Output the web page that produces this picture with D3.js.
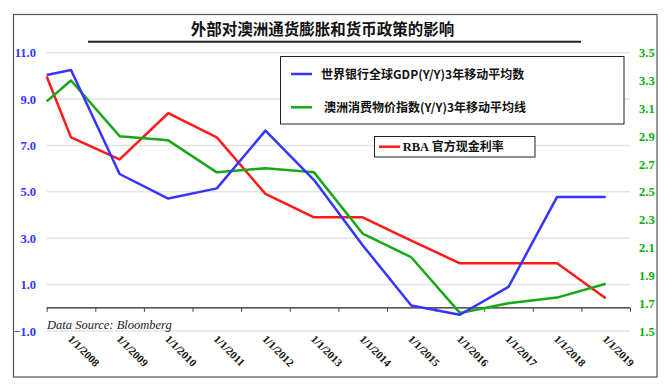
<!DOCTYPE html>
<html>
<head>
<meta charset="utf-8">
<script src="https://cdn.jsdelivr.net/npm/d3@7"></script>
<style>
  html, body { margin: 0; padding: 0; background: #fff; }
  svg { display: block; }
</style>
</head>
<body>
<svg id="chart" width="672" height="390"></svg>
<script>
// ---------------- data ----------------
const categories = ["1/1/2008","1/1/2009","1/1/2010","1/1/2011","1/1/2012","1/1/2013",
                    "1/1/2014","1/1/2015","1/1/2016","1/1/2017","1/1/2018","1/1/2019"];
// each line starts at the left edge of the plot with a leading value
const gdpStart = 10.04;
const gdpValues = [10.25, 5.77, 4.71, 5.15, 7.64, 5.51, 2.7, 0.1, -0.3, 0.9, 4.78, 4.78];
const rbaStart = 9.97;
const rbaValues = [7.35, 6.40, 8.39, 7.35, 4.91, 3.90, 3.90, 2.9, 1.92, 1.92, 1.92, 0.41];
const cpiStart = 3.15;
const cpiValues = [3.30, 2.90, 2.87, 2.64, 2.67, 2.64, 2.20, 2.03, 1.63, 1.70, 1.74, 1.84];
const leftTicks = [-1, 1, 3, 5, 7, 9, 11];
const rightTicks = [1.5, 1.7, 1.9, 2.1, 2.3, 2.5, 2.7, 2.9, 3.1, 3.3, 3.5];
const titleText = "外部对澳洲通货膨胀和货币政策的影响";
const legendGdp = "世界银行全球GDP(Y/Y)3年移动平均数";
const legendCpi = "澳洲消费物价指数(Y/Y)3年移动平均线";
const legendRbaLatin = "RBA";
const legendRbaCjk = " 官方现金利率";
const sourceText = "Data Source: Bloomberg";

// ---------------- layout ----------------
const svg = d3.select("#chart");
const W = 672, H = 390;
const plot = { left: 46.7, right: 630, top: 52.7, bottom: 331 };
const BLUE = "#3535ff", RED = "#ff1a1a", GREEN = "#16a816", GREENTXT = "#0aae0a";
const CJK = "'Noto Sans CJK SC', 'Noto Sans', sans-serif";
const SERIF = "'Liberation Serif', 'Times New Roman', serif";

svg.append("rect").attr("width", W).attr("height", H).attr("fill", "#fff");
// outer frame
svg.append("rect").attr("x", 13.5).attr("y", 14.5).attr("width", 643.5).attr("height", 362.5)
  .attr("fill", "none").attr("stroke", "#555").attr("stroke-width", 1.2);

const x = d3.scaleLinear().domain([-0.5, categories.length - 0.5]).range([plot.left, plot.right]);
const yL = d3.scaleLinear().domain([-1, 11]).range([plot.bottom, plot.top]);
const yR = d3.scaleLinear().domain([1.5, 3.5]).range([plot.bottom, plot.top]);

// gridlines
svg.append("g").selectAll("line").data(leftTicks).join("line")
  .attr("x1", plot.left).attr("x2", plot.right)
  .attr("y1", d => yL(d)).attr("y2", d => yL(d))
  .attr("stroke", "#e3e3e3").attr("stroke-width", 1.5);

// left axis labels
const leftAxis = d3.axisLeft(yL).tickValues(leftTicks).tickFormat(d3.format(".1f")).tickSize(0).tickPadding(0);
const gl = svg.append("g").attr("transform", `translate(36,0)`).call(leftAxis);
gl.select(".domain").remove();
gl.selectAll("text").attr("fill", BLUE).attr("font-family", SERIF).attr("font-weight", "bold")
  .attr("font-size", 12.5).attr("dy", "0.33em");

// right axis labels
const rightAxis = d3.axisRight(yR).tickValues(rightTicks).tickFormat(d3.format(".1f")).tickSize(0).tickPadding(0);
const gr = svg.append("g").attr("transform", `translate(639,0)`).call(rightAxis);
gr.select(".domain").remove();
gr.selectAll("text").attr("fill", GREENTXT).attr("font-family", SERIF).attr("font-weight", "bold")
  .attr("font-size", 12.5).attr("dy", "0.33em");

// x axis line at 0 with ticks at category boundaries
const boundaries = d3.range(categories.length + 1).map(i => i - 0.5);
const xAxis = d3.axisBottom(x).tickValues(boundaries).tickSize(4).tickFormat("");
const gx = svg.append("g").attr("transform", `translate(0,${yL(0)})`).call(xAxis);
gx.select(".domain").attr("stroke", "#222").attr("stroke-width", 1.2).attr("d", `M${plot.left},0H${plot.right}`);
gx.selectAll(".tick line").attr("stroke", "#444");

// x category labels (rotated 45°)
svg.append("g").selectAll("text").data(categories).join("text")
  .attr("transform", (d, i) => `translate(${x(i) - 1},${337}) rotate(45)`)
  .attr("dy", "0.35em")
  .attr("font-family", SERIF).attr("font-weight", "bold").attr("font-size", 11)
  .attr("fill", "#111")
  .text(d => d);

// data source
svg.append("text").attr("x", 47).attr("y", 329).attr("font-family", SERIF).attr("font-style", "italic")
  .attr("font-size", 12.5).attr("fill", "#222").text(sourceText);

// lines
function pts(start, vals) {
  return [{ i: -0.5, v: start }].concat(vals.map((v, i) => ({ i, v })));
}
const lineL = d3.line().x(d => x(d.i)).y(d => yL(d.v));
const lineR = d3.line().x(d => x(d.i)).y(d => yR(d.v));
svg.append("path").datum(pts(rbaStart, rbaValues)).attr("d", lineL)
  .attr("fill", "none").attr("stroke", RED).attr("stroke-width", 2.5).attr("stroke-linejoin", "round");
svg.append("path").datum(pts(cpiStart, cpiValues)).attr("d", lineR)
  .attr("fill", "none").attr("stroke", GREEN).attr("stroke-width", 2.5).attr("stroke-linejoin", "round");
svg.append("path").datum(pts(gdpStart, gdpValues)).attr("d", lineL)
  .attr("fill", "none").attr("stroke", BLUE).attr("stroke-width", 2.5).attr("stroke-linejoin", "round");

// title
svg.append("text").attr("x", 322.5).attr("y", 35).attr("text-anchor", "middle")
  .attr("font-family", CJK).attr("font-weight", "bold").attr("font-size", 15.5).attr("fill", "#111")
  .text(titleText);
svg.append("line").attr("x1", 88).attr("x2", 581).attr("y1", 41.8).attr("y2", 41.8)
  .attr("stroke", "#222").attr("stroke-width", 2);

// legend box 1
svg.append("rect").attr("x", 280.5).attr("y", 56.5).attr("width", 343.5).attr("height", 67.5)
  .attr("fill", "#fff").attr("stroke", "#222").attr("stroke-width", 1);
svg.append("line").attr("x1", 291).attr("x2", 312).attr("y1", 74).attr("y2", 74)
  .attr("stroke", BLUE).attr("stroke-width", 2.5);
svg.append("text").attr("x", 321).attr("y", 78.5).attr("font-family", CJK).attr("font-weight", "bold")
  .attr("font-size", 12).attr("fill", "#111").text(legendGdp);
svg.append("line").attr("x1", 291).attr("x2", 312).attr("y1", 107.3).attr("y2", 107.3)
  .attr("stroke", GREEN).attr("stroke-width", 2.5);
svg.append("text").attr("x", 324).attr("y", 111.8).attr("font-family", CJK).attr("font-weight", "bold")
  .attr("font-size", 12).attr("fill", "#111").text(legendCpi);

// legend box 2
svg.append("rect").attr("x", 374.5).attr("y", 136.5).attr("width", 160.5).attr("height", 20.5)
  .attr("fill", "#fff").attr("stroke", "#222").attr("stroke-width", 1);
svg.append("line").attr("x1", 379).attr("x2", 400).attr("y1", 146.7).attr("y2", 146.7)
  .attr("stroke", RED).attr("stroke-width", 2.5);
const t2 = svg.append("text").attr("x", 402.7).attr("y", 151).attr("font-size", 12).attr("fill", "#111")
  .attr("font-weight", "bold");
t2.append("tspan").attr("font-family", SERIF).attr("font-size", 12.5).text(legendRbaLatin);
t2.append("tspan").attr("font-family", CJK).text(legendRbaCjk);
</script>
</body>
</html>
